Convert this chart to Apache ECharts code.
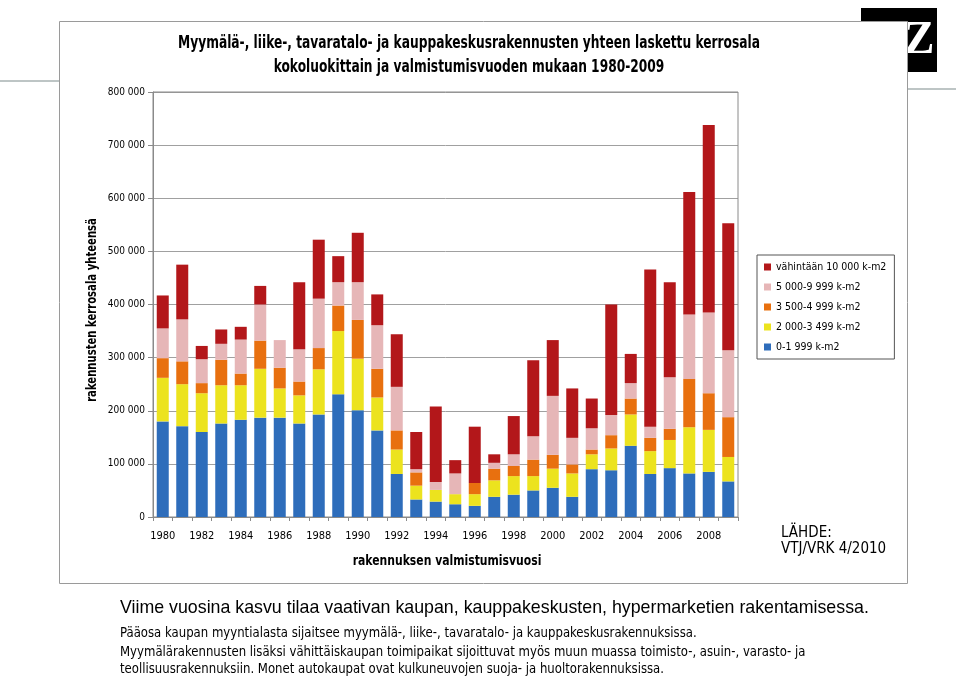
<!DOCTYPE html>
<html><head><meta charset="utf-8">
<script src="https://cdn.jsdelivr.net/npm/echarts@6/dist/echarts.min.js"></script>
<style>html,body{margin:0;padding:0;background:#fff}#c{width:960px;height:695px}</style>
</head><body><div id="c"></div>
<script>
const years = [1980,1981,1982,1983,1984,1985,1986,1987,1988,1989,1990,1991,1992,1993,1994,1995,1996,1997,1998,1999,2000,2001,2002,2003,2004,2005,2006,2007,2008,2009];
const size0_1999 = [180000,171000,160000,176000,183000,187000,187000,176000,193000,231000,201000,163000,81000,33000,29000,24000,21000,38000,42000,50000,55000,38000,90000,88000,134000,81000,92000,82000,85000,67000];
const size2000_3499 = [82000,79000,73000,72000,65000,92000,55000,53000,85000,119000,97000,62000,46000,26000,22000,19000,22000,31000,35000,27000,36000,44000,28000,41000,59000,43000,53000,87000,79000,46000];
const size3500_4999 = [37000,43000,19000,48000,22000,53000,39000,26000,40000,48000,73000,54000,36000,25000,0,0,21000,22000,19000,31000,26000,17000,9000,25000,30000,25000,21000,91000,69000,75000];
const size5000_9999 = [56000,79000,45000,30000,64000,68000,52000,61000,93000,44000,71000,82000,82000,6000,15000,39000,0,11000,22000,44000,111000,50000,40000,38000,29000,21000,97000,121000,152000,126000];
const size10000 = [62000,103000,25000,27000,24000,35000,0,126000,111000,49000,93000,58000,99000,70000,142000,25000,106000,16000,72000,143000,105000,93000,56000,208000,55000,296000,179000,231000,353000,239000];
const seriesNames = ['0-1 999 k-m2','2 000-3 499 k-m2','3 500-4 999 k-m2','5 000-9 999 k-m2','vähintään 10 000 k-m2'];
const seriesColors = ['#2e6dbb','#ece31e','#e8700f','#e6b6b7','#b3171a'];
const yTicks = [0,100000,200000,300000,400000,500000,600000,700000,800000];

const NARROW = '"Liberation Sans Narrow","DejaVu Sans Condensed",sans-serif';
const dataSets = [size0_1999,size2000_3499,size3500_4999,size5000_9999,size10000];
const fmt = v => String(v).replace(/\B(?=(\d{3})+(?!\d))/g,' ');

const chart = echarts.init(document.getElementById('c'), null, {renderer:'canvas'});
chart.setOption({
  backgroundColor:'#ffffff',
  animation:false,
  grid:{left:153,right:222,top:92,bottom:178,show:true,borderColor:'#8a8a8a',borderWidth:1,backgroundColor:'transparent',z:2},
  xAxis:{type:'category',data:years.map(String),
    axisLine:{lineStyle:{color:'#8a8a8a'}},
    axisTick:{show:true,interval:0,length:4,lineStyle:{color:'#8a8a8a'}},
    axisLabel:{interval:1,color:'#000',fontSize:11,fontFamily:NARROW,margin:14}},
  yAxis:{type:'value',min:yTicks[0],max:yTicks[yTicks.length-1],interval:100000,
    axisLine:{show:true,lineStyle:{color:'#8a8a8a'}},
    axisTick:{show:true,length:5,lineStyle:{color:'#8a8a8a'}},
    splitLine:{lineStyle:{color:'#a0a0a0'}},
    axisLabel:{color:'#000',fontSize:10,fontFamily:NARROW,margin:8,formatter:fmt}},
  legend:{orient:'vertical',left:757,top:255,
    data:seriesNames.slice().reverse(),
    icon:'rect',itemWidth:7,itemHeight:7,itemGap:8,itemStyle:{borderWidth:0},
    borderColor:'#555',borderWidth:1,padding:[6,8,6,7],
    textStyle:{fontSize:10.5,color:'#000',fontFamily:NARROW,lineHeight:12}},
  series:dataSets.map((d,i)=>({name:seriesNames[i],type:'bar',stack:'total',data:d,barWidth:12,
    itemStyle:{color:seriesColors[i]},z:3})),
  graphic:[
    {type:'line',z:-30,shape:{x1:0,y1:81,x2:60,y2:81},style:{stroke:'#7d8b8b',lineWidth:1}},
    {type:'line',z:-30,shape:{x1:905,y1:89,x2:956,y2:89},style:{stroke:'#7d8b8b',lineWidth:1}},
    {type:'rect',z:-25,shape:{x:861,y:8,width:76,height:64},style:{fill:'#000'}},
    {type:'text',z:-24,x:919,y:41,style:{text:'Z',fill:'#fff',textAlign:'center',textVerticalAlign:'middle',font:'bold 46px "Liberation Serif","DejaVu Serif",serif'}},
    {type:'rect',z:-20,shape:{x:59.5,y:21.5,width:848,height:562},style:{fill:'#fff',stroke:'#9a9a9a',lineWidth:1}},
    {type:'text',z:10,x:469,y:56,scaleX:0.8,style:{text:'Myymälä-, liike-, tavaratalo- ja kauppakeskusrakennusten yhteen laskettu kerrosala\nkokoluokittain ja valmistumisvuoden mukaan 1980-2009',
      textAlign:'center',textVerticalAlign:'middle',fill:'#000',font:'bold 17px '+NARROW,lineHeight:24}},
    {type:'text',z:10,x:92,y:310,rotation:Math.PI/2,scaleX:0.8,style:{text:'rakennusten kerrosala yhteensä',
      textAlign:'center',textVerticalAlign:'middle',fill:'#000',font:'bold 14px '+NARROW}},
    {type:'text',z:10,x:447,y:561,scaleX:0.86,style:{text:'rakennuksen valmistumisvuosi',
      textAlign:'center',textVerticalAlign:'middle',fill:'#000',font:'bold 14px '+NARROW}},
    {type:'text',z:10,left:781,top:525,style:{text:'LÄHDE:\nVTJ/VRK 4/2010',fill:'#000',font:'15px '+NARROW,lineHeight:16}},
    {type:'text',z:10,x:120,y:608,style:{text:'Viime vuosina kasvu tilaa vaativan kaupan, kauppakeskusten, hypermarketien rakentamisessa.',textVerticalAlign:'middle',fill:'#000',font:'17.8px "Liberation Sans",Arial,sans-serif'}},
    {type:'text',z:10,x:120,y:633,scaleX:0.93,style:{text:'Pääosa kaupan myyntialasta sijaitsee myymälä-, liike-, tavaratalo- ja kauppakeskusrakennuksissa.',textVerticalAlign:'middle',fill:'#000',font:'14px '+NARROW}},
    {type:'text',z:10,x:120,y:652,scaleX:0.93,style:{text:'Myymälärakennusten lisäksi vähittäiskaupan toimipaikat sijoittuvat myös muun muassa toimisto-, asuin-, varasto- ja',textVerticalAlign:'middle',fill:'#000',font:'14px '+NARROW}},
    {type:'text',z:10,x:120,y:669,scaleX:0.93,style:{text:'teollisuusrakennuksiin. Monet autokaupat ovat kulkuneuvojen suoja- ja huoltorakennuksissa.',textVerticalAlign:'middle',fill:'#000',font:'14px '+NARROW}}
  ]
});
</script></body></html>
